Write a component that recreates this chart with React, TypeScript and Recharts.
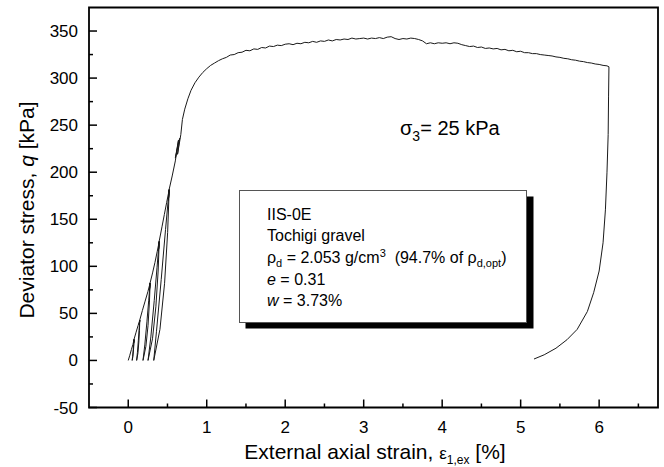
import React from 'react';
import { LineChart, Line, XAxis, YAxis, ReferenceArea, Customized } from 'recharts';

const FONT = '"Liberation Sans", Arial, Helvetica, sans-serif';

// [external axial strain %, deviator stress kPa]
// small-strain unload/reload cycles at the start of shearing
const loadingCycles: [number, number][] = [
  [0, 0], [0.02, 5.5], [0.04, 11.5], [0.06, 17], [0.073, 22],
  [0.069, 18.5], [0.073, 22], [0.07, 19], [0.074, 22.5],
  [0.071, 16.5], [0.066, 10], [0.059, 4], [0.05, 0],
  [0.056, 4.5], [0.063, 11], [0.069, 17], [0.074, 22.5],
  [0.1, 30], [0.125, 37], [0.146, 42.5],
  [0.141, 38.5], [0.146, 42.5], [0.142, 39], [0.147, 43],
  [0.143, 32], [0.135, 19.5], [0.123, 7.5], [0.107, 0],
  [0.117, 8.5], [0.129, 21.5], [0.139, 33.5], [0.147, 43],
  [0.18, 53], [0.215, 63], [0.25, 73], [0.278, 82],
  [0.27, 75], [0.278, 82], [0.271, 76], [0.279, 82.5],
  [0.27, 62], [0.252, 37], [0.225, 15], [0.188, 0],
  [0.211, 16.5], [0.238, 41], [0.261, 64], [0.279, 82.5],
  [0.31, 93], [0.34, 104], [0.37, 116], [0.394, 126],
  [0.385, 117], [0.394, 126], [0.386, 118], [0.395, 127],
  [0.381, 95], [0.352, 57], [0.309, 23], [0.252, 0],
  [0.288, 25], [0.331, 63.5], [0.367, 99], [0.395, 127],
  [0.43, 142], [0.46, 155], [0.49, 168], [0.521, 181],
  [0.511, 170], [0.521, 181], [0.512, 171], [0.522, 182],
  [0.502, 136], [0.463, 82], [0.404, 33], [0.325, 0],
  [0.36, 31], [0.42, 86], [0.475, 139], [0.522, 182],
  [0.56, 196], [0.6, 212], [0.64, 234],
  [0.6, 215], [0.655, 236], [0.628, 219], [0.67, 240],
];

// monotonic loading up to peak and post-peak softening
const plateau: [number, number][] = [
  [0.69, 256], [0.72, 267], [0.76, 278], [0.8, 287], [0.85, 295], [0.9, 301],
  [0.95, 306], [1.0, 310], [1.05, 313.5], [1.1, 316], [1.15, 318.5], [1.2, 320.5],
  [1.25, 322], [1.3, 324.5], [1.35, 325], [1.4, 327], [1.45, 327.5], [1.5, 329.5],
  [1.55, 329], [1.6, 331], [1.65, 330.5], [1.7, 332.5], [1.75, 332], [1.8, 334],
  [1.85, 333.5], [1.9, 335], [1.95, 334.5], [2.0, 336], [2.05, 336.5], [2.1, 335.5],
  [2.15, 337], [2.2, 336.5], [2.25, 338], [2.3, 337.5], [2.35, 339], [2.4, 338],
  [2.45, 339.5], [2.5, 339], [2.55, 340.5], [2.6, 339.5], [2.65, 341], [2.7, 340.5],
  [2.75, 341.5], [2.8, 341], [2.85, 342.5], [2.9, 341.5], [2.95, 342], [3.0, 342.5],
  [3.05, 341.5], [3.1, 342.5], [3.15, 342], [3.2, 343], [3.25, 342], [3.3, 343.5],
  [3.35, 344], [3.4, 342], [3.45, 341], [3.5, 342], [3.55, 341.5], [3.6, 342.5],
  [3.65, 342], [3.7, 341], [3.75, 339.5], [3.8, 336.5], [3.85, 337.5], [3.9, 336.5],
  [3.95, 337.5], [4.0, 337], [4.05, 337.5], [4.1, 336.5], [4.15, 337.5], [4.2, 337],
  [4.25, 335.5], [4.3, 334.5], [4.35, 333.5], [4.4, 334], [4.45, 332.5], [4.5, 333],
  [4.55, 331.5], [4.6, 332], [4.65, 331], [4.7, 331.5], [4.75, 330], [4.8, 330.5],
  [4.85, 329], [4.9, 329.5], [4.95, 328], [5.0, 328.5], [5.05, 327], [5.1, 327],
  [5.15, 326], [5.2, 326], [5.25, 325], [5.3, 324.5], [5.35, 324], [5.4, 323.5],
  [5.45, 322.5], [5.5, 322], [5.55, 321], [5.6, 320.5], [5.65, 319.5], [5.7, 319],
  [5.75, 318], [5.8, 317.5], [5.85, 316.5], [5.9, 316], [5.95, 315], [6.0, 314.5],
  [6.05, 313.5], [6.1, 313], [6.125, 312],
];

// final unloading to zero
const finalUnload: [number, number][] = [
  [6.12, 280], [6.115, 240], [6.1, 200], [6.08, 160], [6.05, 125], [6.0, 95],
  [5.93, 72], [5.85, 52], [5.72, 33], [5.59, 22], [5.45, 13], [5.3, 6], [5.17, 1.5],
];

const strainTicks = [0, 0.5, 1, 1.5, 2, 2.5, 3, 3.5, 4, 4.5, 5, 5.5, 6, 6.5];
const stressTicks = [-50, -25, 0, 25, 50, 75, 100, 125, 150, 175, 200, 225, 250, 275, 300, 325, 350];

const data = [...loadingCycles, ...plateau, ...finalUnload].map(([x, q]) => ({ x, q }));

const isMajorStrain = (v: number) => Number.isInteger(v);
const isMajorStress = (v: number) => v % 50 === 0;

const TICK_W = 1.5;

const BottomTick = (props: any) => {
  const { x, y, payload } = props;
  const major = isMajorStrain(payload.value);
  return (
    <g>
      <line x1={x} y1={y} x2={x} y2={y - (major ? 8 : 4)} stroke="#000" strokeWidth={TICK_W} />
      {major && (
        <text x={x} y={y + 25} textAnchor="middle" fontSize={17} fontFamily={FONT} fill="#000">
          {payload.value}
        </text>
      )}
    </g>
  );
};

const TopTick = (props: any) => {
  const { x, y, payload } = props;
  const major = isMajorStrain(payload.value);
  return <line x1={x} y1={y} x2={x} y2={y + (major ? 8 : 4)} stroke="#000" strokeWidth={TICK_W} />;
};

const LeftTick = (props: any) => {
  const { x, y, payload } = props;
  const major = isMajorStress(payload.value);
  return (
    <g>
      <line x1={x} y1={y} x2={x + (major ? 8 : 4)} y2={y} stroke="#000" strokeWidth={TICK_W} />
      {major && (
        <text x={x - 11} y={y + 6} textAnchor="end" fontSize={17} fontFamily={FONT} fill="#000">
          {payload.value}
        </text>
      )}
    </g>
  );
};

const RightTick = (props: any) => {
  const { x, y, payload } = props;
  const major = isMajorStress(payload.value);
  return <line x1={x} y1={y} x2={x - (major ? 8 : 4)} y2={y} stroke="#000" strokeWidth={TICK_W} />;
};

const Annotations = () => (
  <g fontFamily={FONT} fill="#000">
    <text x={34} y={210} fontSize={21} textAnchor="middle" transform="rotate(-90 34 210)">
      Deviator stress, <tspan fontStyle="italic">q</tspan> [kPa]
    </text>
    <text x={375} y={459} fontSize={21} textAnchor="middle" xmlSpace="preserve">
      External axial strain, <tspan fontSize={17}>ε</tspan>
      <tspan fontSize={12} dy={5}>1,ex</tspan>
      <tspan dy={-5}> [%]</tspan>
    </text>
    <text x={400} y={135} fontSize={20}>
      σ<tspan fontSize={14} dy={6}>3</tspan>
      <tspan dy={-6}>= 25 kPa</tspan>
    </text>

    <rect x={245.5} y={196.5} width={288} height={132} fill="#000" />
    <rect x={239.5} y={190.5} width={287} height={132} fill="#fff" stroke="#555" strokeWidth={1} />
    <g fontSize={16}>
      <text x={267} y={220}>IIS-0E</text>
      <text x={267} y={241}>Tochigi gravel</text>
      <text x={267} y={263} xmlSpace="preserve">
        ρ<tspan fontSize={11} dy={4}>d</tspan>
        <tspan dy={-4}>{' = 2.053 g/cm'}</tspan>
        <tspan fontSize={11} dy={-6}>3</tspan>
        <tspan dy={6}>{'\u00a0\u00a0(94.7% of ρ'}</tspan>
        <tspan fontSize={11} dy={4}>d,opt</tspan>
        <tspan dy={-4}>)</tspan>
      </text>
      <text x={267} y={285}>
        <tspan fontStyle="italic">e</tspan> = 0.31
      </text>
      <text x={267} y={306}>
        <tspan fontStyle="italic">w</tspan> = 3.73%
      </text>
    </g>
  </g>
);

export default function App() {
  return (
    <div style={{ position: 'absolute', left: 0, top: 0, width: 664, height: 467, background: '#fff' }}>
      <LineChart width={664} height={467} data={data} margin={{ top: 7.5, right: 6, bottom: 0, left: 0 }}>
        <XAxis
          xAxisId="bottom"
          dataKey="x"
          type="number"
          orientation="bottom"
          domain={[-0.5, 6.75]}
          allowDataOverflow
          ticks={strainTicks}
          interval={0}
          height={59.5}
          axisLine={false}
          tickLine={false}
          tickSize={0}
          tickMargin={0}
          tick={BottomTick}
        />
        <XAxis
          xAxisId="top"
          dataKey="x"
          type="number"
          orientation="top"
          domain={[-0.5, 6.75]}
          allowDataOverflow
          ticks={strainTicks}
          interval={0}
          height={0}
          axisLine={false}
          tickLine={false}
          tickSize={0}
          tickMargin={0}
          tick={TopTick}
        />
        <YAxis
          yAxisId="left"
          type="number"
          orientation="left"
          domain={[-50, 375]}
          allowDataOverflow
          ticks={stressTicks}
          interval={0}
          width={89}
          axisLine={false}
          tickLine={false}
          tickSize={0}
          tickMargin={0}
          tick={LeftTick}
        />
        <YAxis
          yAxisId="right"
          type="number"
          orientation="right"
          domain={[-50, 375]}
          allowDataOverflow
          ticks={stressTicks}
          interval={0}
          width={0}
          axisLine={false}
          tickLine={false}
          tickSize={0}
          tickMargin={0}
          tick={RightTick}
        />
        <ReferenceArea
          xAxisId="bottom"
          yAxisId="left"
          x1={-0.5}
          x2={6.75}
          y1={-50}
          y2={375}
          fill="none"
          stroke="#000"
          strokeWidth={1.8}
        />
        <Line
          xAxisId="top"
          yAxisId="right"
          dataKey="q"
          stroke="none"
          dot={false}
          activeDot={false}
          isAnimationActive={false}
        />
        <Line
          xAxisId="bottom"
          yAxisId="left"
          dataKey="q"
          type="linear"
          stroke="#1a1a1a"
          strokeWidth={1}
          dot={false}
          activeDot={false}
          isAnimationActive={false}
        />
        <Customized component={Annotations} />
      </LineChart>
    </div>
  );
}
